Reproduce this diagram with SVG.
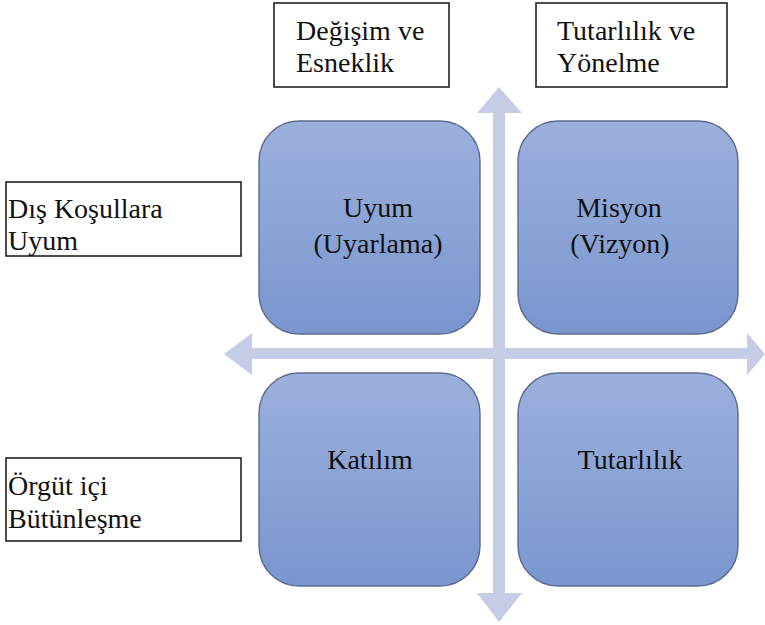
<svg xmlns="http://www.w3.org/2000/svg" width="765" height="625" viewBox="0 0 765 625">
<defs>
<linearGradient id="g" x1="0" y1="0" x2="0" y2="1">
<stop offset="0" stop-color="#9cb0dc"/>
<stop offset="1" stop-color="#7a96cf"/>
</linearGradient>
<style>
text{font-family:'Liberation Serif','Times New Roman',serif;font-size:28px;fill:#111}
.c{text-anchor:middle}
.lb{fill:#fff;stroke:#222;stroke-width:1.6}
.bx{fill:url(#g);stroke:#5d6b8c;stroke-width:1.4}
.ar{fill:#c5cce6}
</style>
</defs>
<rect width="765" height="625" fill="#fff"/>
<g id="connectors">
<polygon class="ar" points="252,348 747,348 747,333 765,354 747,375 747,359 252,359 252,375 224,354 252,333"/>
<polygon class="ar" points="493,113 493,593 477,593 499,622 522,593 505,593 505,113 522,113 499,87 477,113"/>
</g>
<g id="label-change">
<rect class="lb" x="274" y="3" width="175" height="84"/>
<text x="296" y="40">Değişim ve</text>
<text x="296" y="72">Esneklik</text>
</g>
<g id="label-consistency">
<rect class="lb" x="536" y="3" width="191" height="84"/>
<text x="557" y="40">Tutarlılık ve</text>
<text x="557" y="72">Yönelme</text>
</g>
<g id="label-external">
<rect class="lb" x="6" y="182" width="235" height="74"/>
<text x="8" y="218">Dış Koşullara</text>
<text x="8" y="250">Uyum</text>
</g>
<g id="label-internal">
<rect class="lb" x="6" y="458" width="235" height="83"/>
<text x="8" y="495">Örgüt içi</text>
<text x="8" y="528">Bütünleşme</text>
</g>
<g id="node-uyum">
<rect class="bx" x="259" y="121" width="221" height="213" rx="40"/>
<text class="c" x="378" y="217">Uyum</text>
<text class="c" x="378" y="253">(Uyarlama)</text>
</g>
<g id="node-misyon">
<rect class="bx" x="518" y="121" width="220" height="213" rx="40"/>
<text class="c" x="619" y="217">Misyon</text>
<text class="c" x="620" y="253">(Vizyon)</text>
</g>
<g id="node-katilim">
<rect class="bx" x="259" y="373" width="221" height="213" rx="40"/>
<text class="c" x="370" y="469">Katılım</text>
</g>
<g id="node-tutarlilik">
<rect class="bx" x="518" y="373" width="220" height="213" rx="40"/>
<text class="c" x="630" y="469">Tutarlılık</text>
</g>
</svg>
